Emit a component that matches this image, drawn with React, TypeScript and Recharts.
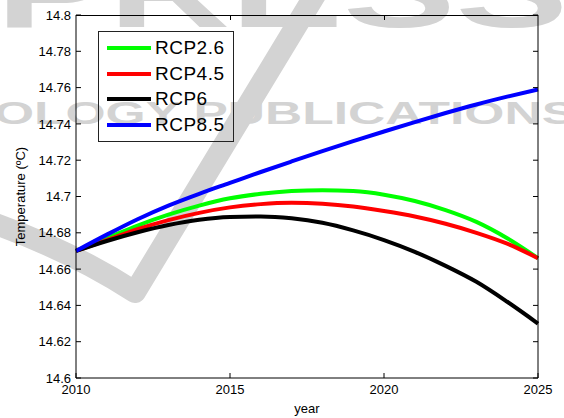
import { LineChart, Line, XAxis, YAxis, Legend } from 'recharts'

// Mean temperature projections per scenario, 2010-2025
const years = [2010, 2011, 2012, 2013, 2014, 2015, 2016, 2017, 2018, 2019, 2020, 2021, 2022, 2023, 2024, 2025]
const rcp26 = [14.67, 14.677, 14.684, 14.69, 14.695, 14.699, 14.7015, 14.703, 14.7035, 14.703, 14.701, 14.6975, 14.6925, 14.686, 14.677, 14.666]
const rcp45 = [14.67, 14.676, 14.682, 14.687, 14.691, 14.694, 14.6958, 14.6965, 14.696, 14.6945, 14.692, 14.689, 14.685, 14.68, 14.674, 14.666]
const rcp6 = [14.67, 14.6755, 14.6803, 14.6843, 14.6872, 14.6887, 14.689, 14.688, 14.6855, 14.6813, 14.676, 14.6695, 14.6618, 14.653, 14.642, 14.63]
const rcp85 = [14.67, 14.679, 14.6875, 14.695, 14.7015, 14.7075, 14.7135, 14.7193, 14.725, 14.7305, 14.7358, 14.741, 14.746, 14.7507, 14.755, 14.759]

const yearTicks = [2010, 2015, 2020, 2025]
const tempTicks = [14.6, 14.62, 14.64, 14.66, 14.68, 14.7, 14.72, 14.74, 14.76, 14.78, 14.8]
const yearDomain: [number, number] = [2010, 2025]
const tempDomain: [number, number] = [14.6, 14.8]

// the last two series sit on the mirrored right axis (same domain) so it gets drawn
const series = [
  { key: 'rcp26', name: 'RCP2.6', color: '#00ff00', values: rcp26, yId: 'left' },
  { key: 'rcp45', name: 'RCP4.5', color: '#ff0000', values: rcp45, yId: 'left' },
  { key: 'rcp6', name: 'RCP6', color: '#000000', values: rcp6, yId: 'right' },
  { key: 'rcp85', name: 'RCP8.5', color: '#0000ff', values: rcp85, yId: 'right' },
]

const data = years.map((year, i) => {
  const row: Record<string, number> = { year }
  series.forEach((s) => {
    row[s.key] = s.values[i]
  })
  return row
})

const W = 564
const H = 418
// plot box
const plot = { left: 76, top: 15, right: 538, bottom: 378 }
const yAxisW = 60
const xAxisH = H - plot.bottom

const font = '"Liberation Sans", Arial, sans-serif'
const tickStyle = { fill: '#000', fontSize: 13, fontFamily: font }
const blank = () => ''
const fmtTemp = (v: number) => String(Number(v.toFixed(2)))

function LegendBox() {
  return (
    <div
      style={{
        width: 136,
        height: 111,
        boxSizing: 'border-box',
        border: '1px solid #222',
        paddingTop: 3,
        fontFamily: font,
      }}
    >
      {series.map((s) => (
        <div key={s.key} style={{ display: 'flex', alignItems: 'center', height: 25.7 }}>
          <span style={{ width: 44, height: 4, background: s.color, marginLeft: 8, marginRight: 4 }} />
          <span style={{ fontSize: 19, letterSpacing: 0.5, color: '#000', lineHeight: '20px' }}>{s.name}</span>
        </div>
      ))}
    </div>
  )
}

// light grey publisher mark sitting behind the plot
function Watermark() {
  const grey = '#d3d3d3'
  return (
    <svg width={W} height={H} style={{ position: 'absolute', left: 0, top: 0 }}>
      <text x={-4} y={27} fontSize={100} fontWeight="bold" fill={grey} fontFamily={font} textLength={572} lengthAdjust="spacingAndGlyphs">
        PRESS
      </text>
      <path d="M -10 222 Q 70 250 135 292 L 318 -10" stroke={grey} strokeWidth={22} fill="none" strokeLinejoin="round" />
      <text x={-6} y={124} fontSize={32} fontWeight="bold" fill={grey} fontFamily={font} textLength={582} lengthAdjust="spacingAndGlyphs">
        OLOGY PUBLICATIONS
      </text>
    </svg>
  )
}

// closes the box along the top, with inward ticks at the year positions
function TopEdge() {
  const span = plot.right - plot.left
  const xOf = (t: number) => plot.left + ((t - yearDomain[0]) / (yearDomain[1] - yearDomain[0])) * span
  return (
    <svg width={W} height={H} style={{ position: 'absolute', left: 0, top: 0, pointerEvents: 'none' }}>
      <line x1={plot.left} x2={plot.right} y1={plot.top + 0.5} y2={plot.top + 0.5} stroke="#000" strokeWidth={1} />
      {yearTicks.slice(1, -1).map((t) => (
        <line key={t} x1={Math.round(xOf(t)) + 0.5} x2={Math.round(xOf(t)) + 0.5} y1={plot.top} y2={plot.top + 5} stroke="#000" strokeWidth={1} />
      ))}
    </svg>
  )
}

export default function App() {
  return (
    <div style={{ position: 'absolute', left: 0, top: 0, width: W, height: H, background: '#fff' }}>
      <Watermark />
      <div style={{ position: 'absolute', left: 0, top: 0 }}>
        <LineChart
          width={W}
          height={H}
          data={data}
          margin={{ top: plot.top, right: W - plot.right - 1, bottom: 0, left: plot.left - yAxisW }}
        >
          <XAxis
            dataKey="year"
            type="number"
            domain={yearDomain}
            ticks={yearTicks}
            height={xAxisH}
            tickSize={-5}
            tickMargin={12}
            stroke="#000"
            tick={tickStyle}
            label={{ value: 'year', position: 'insideBottom', offset: 5, fill: '#000', fontSize: 13, fontFamily: font }}
          />
          <YAxis
            yAxisId="left"
            type="number"
            domain={tempDomain}
            ticks={tempTicks}
            width={yAxisW}
            tickSize={-5}
            tickMargin={10}
            tickFormatter={fmtTemp}
            stroke="#000"
            tick={tickStyle}
            label={{
              value: 'Temperature (ºC)',
              angle: -90,
              position: 'insideLeft',
              offset: 4,
              fill: '#000',
              fontSize: 13,
              fontFamily: font,
              style: { textAnchor: 'middle' },
            }}
          />
          <YAxis
            yAxisId="right"
            orientation="right"
            type="number"
            domain={tempDomain}
            ticks={tempTicks}
            width={1}
            tickSize={-5}
            tickFormatter={blank}
            stroke="#000"
          />
          {series.map((s) => (
            <Line
              key={s.key}
              yAxisId={s.yId}
              type="monotone"
              dataKey={s.key}
              name={s.name}
              stroke={s.color}
              strokeWidth={4}
              dot={false}
              isAnimationActive={false}
            />
          ))}
          <Legend
            layout="vertical"
            align="center"
            verticalAlign="middle"
            wrapperStyle={{ left: 98, top: 31, width: 136, height: 111 }}
            content={() => <LegendBox />}
          />
        </LineChart>
      </div>
      <TopEdge />
    </div>
  )
}
